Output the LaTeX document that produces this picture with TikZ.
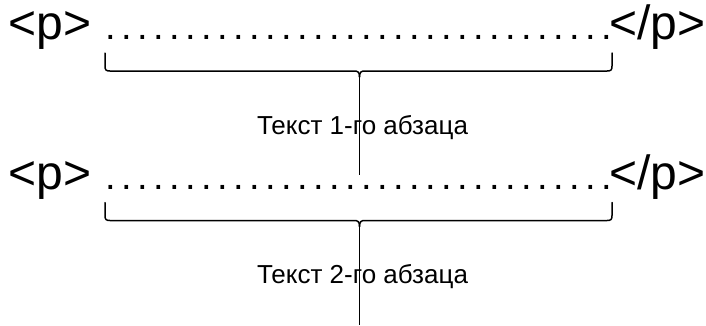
\documentclass[tikz,border=0pt]{standalone}
\usepackage{fontspec}
\setmainfont{Liberation Sans}
\begin{document}
\begin{tikzpicture}[x=1pt,y=-1pt,
  tag/.style={inner sep=0pt,outer sep=0pt,font=\fontsize{48}{48}\selectfont},
  dotrow/.style={inner sep=0pt,outer sep=0pt,anchor=base,font=\fontsize{38}{38}\selectfont},
  label/.style={inner sep=0pt,outer sep=0pt,anchor=base,font=\fontsize{26}{26}\selectfont},
  bracebody/.style={line width=1.5pt,line join=round,line cap=round},
  stem/.style={line width=1pt}]
\useasboundingbox (0,0) rectangle (706,325);
\foreach \r/\n in {0/1,149.5/2}{
  \begin{scope}[yshift=-\r pt]
  \node[tag,anchor=base west] (lp\n) at (8.4,39.6) {<p>};
  \node[dotrow] (dots\n) at (359,39.6) {\makebox[512pt]{\leaders\hbox to 16pt{\hss.\hss}\hfill}};
  \node[tag,anchor=base east] (rp\n) at (705.5,39.6) {</p>};
  \node[label] (txt\n) at (362.5,134.3) {Текст \n-го абзаца};
  \draw[bracebody] (105,53) -- (105,66) .. controls (105,70) and (106,71) .. (110,71)
     -- (354,71) .. controls (358,71) and (359.5,72) .. (359.5,77);
  \draw[bracebody] (612,53) -- (612,66) .. controls (612,70) and (611,71) .. (607,71)
     -- (365,71) .. controls (361,71) and (359.5,72) .. (359.5,77);
  \draw[stem] (359.5,76) -- (359.5,175);
  \end{scope}
}
\end{tikzpicture}
\end{document}
